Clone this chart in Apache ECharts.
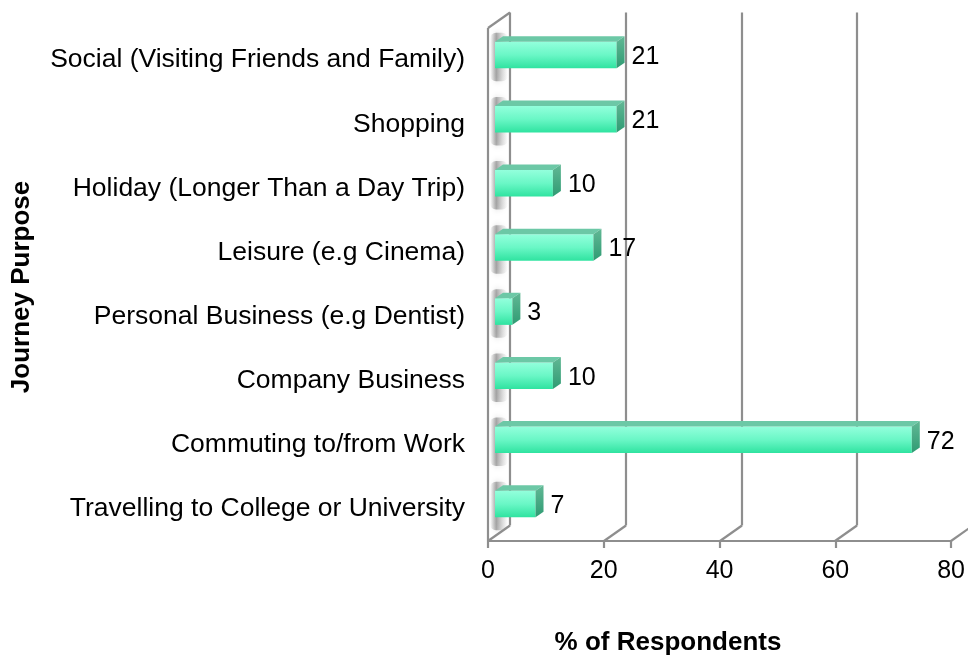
<!DOCTYPE html>
<html>
<head>
<meta charset="utf-8">
<style>
  html, body { margin: 0; padding: 0; background: #ffffff; }
  #chart { width: 968px; height: 661px; }
</style>
<script src="https://cdn.jsdelivr.net/npm/echarts@6/dist/echarts.min.js"></script>
</head>
<body>
<div id="chart"></div>
<script>
// Journey purposes, listed top to bottom
const purposes = [
  'Social (Visiting Friends and Family)',
  'Shopping',
  'Holiday (Longer Than a Day Trip)',
  'Leisure (e.g Cinema)',
  'Personal Business (e.g Dentist)',
  'Company Business',
  'Commuting to/from Work',
  'Travelling to College or University'
];
// Share of respondents (%) for each purpose
const respondents = [21, 21, 10, 17, 3, 10, 72, 7];
// Value-axis ticks
const xTicks = [0, 20, 40, 60, 80];

const FONT = '"Liberation Sans", Arial, Helvetica, sans-serif';
const GRID = '#8e8e8e';
// perspective offset of the back plane
const DEPTH_X = 22, DEPTH_Y = -15.5;
// bars sit partway into the depth
const BAR_OFF_X = 7, BAR_OFF_Y = -5;
const BAR_SIDE_X = 8, BAR_SIDE_Y = -5.5;

const chart = echarts.init(document.getElementById('chart'), null, { renderer: 'canvas' });

function frameItem(params, api) {
  const cs = params.coordSys;
  const v = api.value(0);
  const x = Math.round(api.coord([v, 0])[0]);
  const bottom = Math.round(cs.y + cs.height);
  const top = Math.round(cs.y);
  const bx = x + DEPTH_X;
  const children = [];
  const style = { stroke: GRID, lineWidth: 2.2, fill: null };
  // floor diagonal from the front axis to the back wall
  children.push({ type: 'line', shape: { x1: x, y1: bottom, x2: bx, y2: bottom + DEPTH_Y }, style });
  // back wall gridline
  children.push({ type: 'line', shape: { x1: bx, y1: bottom + DEPTH_Y, x2: bx, y2: top + DEPTH_Y }, style });
  if (v === 0) {
    // side wall: front edge and top edge
    children.push({ type: 'line', shape: { x1: x, y1: bottom, x2: x, y2: top }, style });
    children.push({ type: 'line', shape: { x1: x, y1: top, x2: bx, y2: top + DEPTH_Y }, style });
  }
  return { type: 'group', children };
}

function barItem(params, api) {
  const idx = api.value(1);
  const val = api.value(0);
  const base = api.coord([0, idx]);
  const end = api.coord([val, idx]);
  const band = api.size([0, 1])[1];
  const h = band * 0.415;
  const cy = base[1] + BAR_OFF_Y;
  const x0 = base[0] + BAR_OFF_X;
  const x1 = end[0] + BAR_OFF_X;
  const y0 = cy - h / 2;
  const y1 = cy + h / 2;
  const sx = BAR_SIDE_X, sy = BAR_SIDE_Y;
  const wallX = base[0];
  return {
    type: 'group',
    children: [
      // soft shadow cast onto the side wall
      {
        type: 'rect',
        shape: { x: wallX + 2, y: y0 - 9, width: 18, height: h + 22, r: 6 },
        style: {
          fill: new echarts.graphic.LinearGradient(0, 0, 1, 0, [
            { offset: 0, color: 'rgba(120,120,120,0)' },
            { offset: 0.35, color: 'rgba(110,110,110,0.55)' },
            { offset: 0.7, color: 'rgba(150,150,150,0.25)' },
            { offset: 1, color: 'rgba(160,160,160,0)' }
          ]),
          shadowBlur: 6,
          shadowColor: 'rgba(120,120,120,0.4)'
        },
        z2: 1
      },
      // front face
      {
        type: 'rect',
        shape: { x: x0, y: y0, width: x1 - x0, height: h },
        style: {
          fill: new echarts.graphic.LinearGradient(0, 0, 0, 1, [
            { offset: 0, color: '#93ffdc' },
            { offset: 0.5, color: '#6af7c6' },
            { offset: 1, color: '#2fe3a0' }
          ])
        },
        z2: 3
      },
      // top face
      {
        type: 'polygon',
        shape: { points: [[x0, y0], [x0 + sx, y0 + sy], [x1 + sx, y0 + sy], [x1, y0]] },
        style: { fill: '#6cc8a6' },
        z2: 3
      },
      // end face
      {
        type: 'polygon',
        shape: { points: [[x1, y0], [x1 + sx, y0 + sy], [x1 + sx, y1 + sy], [x1, y1]] },
        style: {
          fill: new echarts.graphic.LinearGradient(0, 0, 0, 1, [
            { offset: 0, color: '#62b895' },
            { offset: 1, color: '#2f9b73' }
          ])
        },
        z2: 3
      },
      // value label
      {
        type: 'text',
        x: x1 + 15,
        y: cy + 2,
        style: {
          text: String(val),
          fill: '#000',
          font: '25px ' + FONT,
          align: 'left',
          verticalAlign: 'middle'
        },
        z2: 4
      }
    ]
  };
}

const option = {
  animation: false,
  backgroundColor: '#ffffff',
  grid: { left: 488, right: 15, top: 28, bottom: 120, containLabel: false },
  xAxis: {
    type: 'value',
    min: 0,
    max: 80,
    interval: 20,
    axisLine: { show: true, lineStyle: { color: GRID, width: 2.2 } },
    axisTick: { show: true, length: 7, lineStyle: { color: GRID, width: 2.2 } },
    axisLabel: { fontSize: 25, fontFamily: FONT, color: '#000', margin: 17, lineHeight: 26 },
    splitLine: { show: false }
  },
  yAxis: {
    type: 'category',
    inverse: true,
    data: purposes,
    axisLine: { show: false },
    axisTick: { show: false },
    axisLabel: { fontSize: 26.5, fontFamily: FONT, color: '#000', margin: 23 },
    splitLine: { show: false }
  },
  graphic: [
    {
      type: 'text',
      x: 668,
      y: 643,
      style: { text: '% of Respondents', font: 'bold 26px ' + FONT, fill: '#000', align: 'center', verticalAlign: 'middle' }
    },
    {
      type: 'text',
      x: 22,
      y: 287,
      rotation: Math.PI / 2,
      style: { text: 'Journey Purpose', font: 'bold 26px ' + FONT, fill: '#000', align: 'center', verticalAlign: 'middle' }
    }
  ],
  series: [
    {
      type: 'custom',
      name: 'frame',
      renderItem: frameItem,
      data: xTicks.map(v => [v]),
      z: 1,
      silent: true
    },
    {
      type: 'custom',
      name: '% of Respondents',
      renderItem: barItem,
      data: respondents.map((v, i) => [v, i]),
      encode: { x: 0, y: 1 },
      z: 2,
      clip: false
    }
  ]
};

chart.setOption(option);
</script>
</body>
</html>
